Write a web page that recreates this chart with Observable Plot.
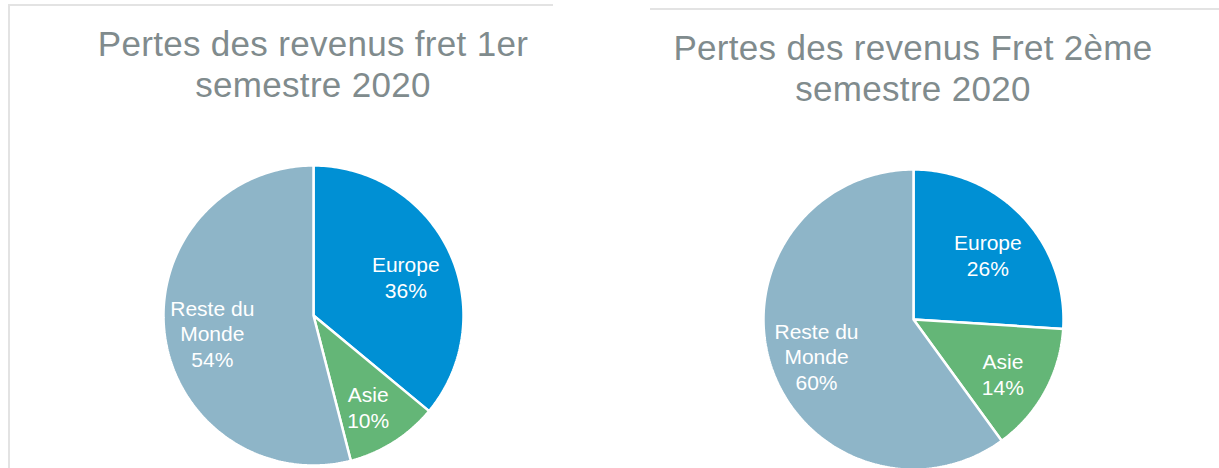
<!DOCTYPE html>
<html>
<head>
<meta charset="utf-8">
<script src="https://cdn.jsdelivr.net/npm/d3@7"></script>
<script src="https://cdn.jsdelivr.net/npm/@observablehq/plot@0.6"></script>
<style>
  html, body { margin: 0; padding: 0; background: #fff; }
  body { width: 1219px; height: 468px; overflow: hidden; position: relative; font-family: "Liberation Sans", Arial, sans-serif; }
  .frame { position: absolute; box-sizing: border-box; }
  .panel { position: absolute; width: 600px; }
  .title { position: absolute; left: 0; width: 600px; text-align: center; color: #808b8d;
           font-size: 35px; line-height: 41px; letter-spacing: 0.3px; }
  .chart { position: absolute; left: 0; }
</style>
</head>
<body>
<div class="frame" style="left:8px;top:4px;width:545px;height:470px;border-top:2px solid #e3e3e3;border-left:2px solid #e3e3e3;"></div>
<div class="frame" style="left:650px;top:8px;width:580px;height:2px;border-top:2px solid #e3e3e3;"></div>
<div id="root"></div>
<script>
// ---- data ----
const categories = ["Europe", "Asie", "Reste du Monde"];
const categoryLabels = ["Europe", "Asie", "Reste du\nMonde"];
const values1 = [36, 10, 54];
const values2 = [26, 14, 60];
const titles = [
  ["Pertes des revenus fret 1er", "semestre 2020"],
  ["Pertes des revenus Fret 2ème", "semestre 2020"]
];
const sliceColors = ["#0090d4", "#64b677", "#8eb5c8"];

// ---- layout ----
const panels = [
  {values: values1, title: titles[0], left: 13, top: 0},
  {values: values2, title: titles[1], left: 613, top: 4}
];

const W = 600, H = 320, R = 150; // px per unit radius

function pieData(values) {
  const total = d3.sum(values);
  const pie = d3.pie().sort(null).value(d => d)(values);
  const pts = [];
  const labels = [];
  pie.forEach((p, i) => {
    const name = categories[i];
    pts.push({name, x: 0, y: 0});
    const n = Math.max(2, Math.ceil((p.endAngle - p.startAngle) / (Math.PI / 180)));
    for (let k = 0; k <= n; k++) {
      const a = p.startAngle + (p.endAngle - p.startAngle) * k / n;
      pts.push({name, x: Math.sin(a), y: Math.cos(a)});
    }
    const mid = (p.startAngle + p.endAngle) / 2;
    const rl = 0.68;
    labels.push({
      name,
      x: rl * Math.sin(mid),
      y: rl * Math.cos(mid),
      text: categoryLabels[i] + "\n" + Math.round(values[i] / total * 100) + "%"
    });
  });
  return {pts, labels};
}

const root = document.getElementById("root");
panels.forEach(pn => {
  const div = document.createElement("div");
  div.className = "panel";
  div.style.left = pn.left + "px";
  div.style.top = pn.top + "px";
  const t = document.createElement("div");
  t.className = "title";
  t.style.top = "23px";
  t.innerHTML = pn.title.join("<br>");
  div.appendChild(t);

  const {pts, labels} = pieData(pn.values);
  const chart = Plot.plot({
    width: W,
    height: H,
    margin: 0,
    x: {domain: [-W / 2 / R, W / 2 / R], axis: null},
    y: {domain: [-H / 2 / R, H / 2 / R], axis: null},
    color: {domain: categories, range: sliceColors},
    style: {fontFamily: "'Liberation Sans', Arial, sans-serif", background: "transparent", overflow: "visible"},
    marks: [
      Plot.line(pts, {x: "x", y: "y", z: "name", fill: "name", stroke: "white",
                      strokeWidth: 2.5, curve: "linear-closed", strokeLinejoin: "miter"}),
      Plot.text(labels, {x: "x", y: "y", text: "text", fill: "white", fontSize: 21,
                         lineHeight: 1.22, textAnchor: "middle", dy: 5})
    ]
  });
  chart.classList.add("chart");
  chart.style.top = (315 - H / 2) + "px";
  div.appendChild(chart);
  root.appendChild(div);
});
</script>
</body>
</html>
